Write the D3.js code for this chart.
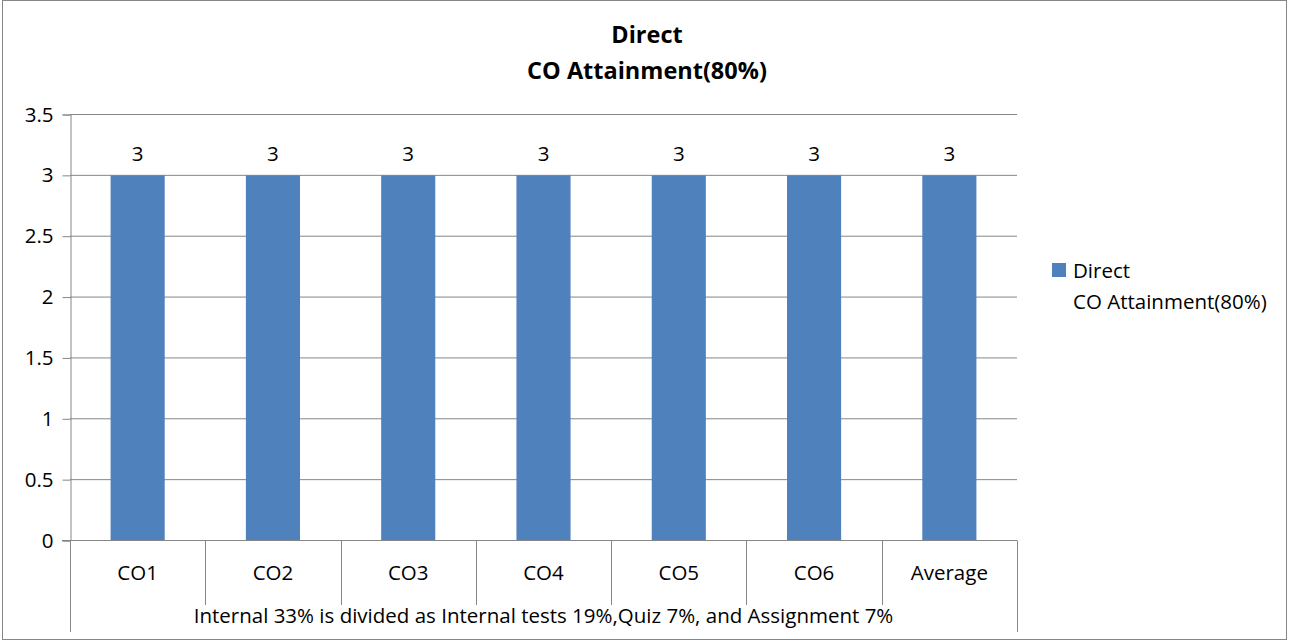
<!DOCTYPE html>
<html>
<head>
<meta charset="UTF-8">
<script src="https://cdn.jsdelivr.net/npm/d3@7"></script>
<style>
  * { margin: 0; padding: 0; }
  html, body { width: 1291px; height: 641px; background: #fff; overflow: hidden; }
  svg { display: block; font-family: "Open Sans", "Noto Sans", sans-serif; }
</style>
</head>
<body>
<svg id="chart" width="1291" height="641"></svg>
<script>
// chart data
var categories = ["CO1", "CO2", "CO3", "CO4", "CO5", "CO6", "Average"];
var values = [3, 3, 3, 3, 3, 3, 3];
var yTicks = [0, 0.5, 1, 1.5, 2, 2.5, 3, 3.5];
var titleLines = ["Direct", "CO Attainment(80%)"];
var groupLabel = "Internal 33% is divided as Internal tests 19%,Quiz 7%, and Assignment 7%";

var svg = d3.select("#chart");
var gridColor = "#868686";
var barColor = "#4f81bd";
var fs = "20.5px";

// outer frame
svg.append("rect")
  .attr("x", 2.5).attr("y", 0.5).attr("width", 1284).attr("height", 639)
  .attr("fill", "#fff").attr("stroke", gridColor).attr("stroke-width", 1);

var x = d3.scaleBand().domain(categories).range([70, 1017]).paddingInner(0).paddingOuter(0);
var y = d3.scaleLinear().domain([0, 3.5]).range([540.5, 114.5]);

// gridlines
svg.append("g").selectAll("line")
  .data(yTicks.filter(function(d) { return d > 0; }))
  .enter().append("line")
  .attr("x1", 70).attr("x2", 1017)
  .attr("y1", function(d) { return y(d); })
  .attr("y2", function(d) { return y(d); })
  .attr("stroke", gridColor).attr("stroke-width", 1);

// y axis
var yAxis = svg.append("g")
  .attr("transform", "translate(70.5,0)")
  .call(d3.axisLeft(y).tickValues(yTicks).tickSize(8).tickPadding(6).tickFormat(d3.format("")));
yAxis.select(".domain").attr("stroke", gridColor);
yAxis.selectAll(".tick line").attr("stroke", gridColor);
yAxis.selectAll(".tick text").attr("font-size", fs).attr("fill", "#000").attr("dx", "-3")
  .attr("font-family", "'Open Sans', sans-serif");

// bars
var bw = x.bandwidth() * 0.4;
svg.append("g").selectAll("rect")
  .data(values)
  .enter().append("rect")
  .attr("x", function(d, i) { return x(categories[i]) + (x.bandwidth() - bw) / 2; })
  .attr("y", function(d) { return y(d); })
  .attr("width", bw)
  .attr("height", function(d) { return y(0) - y(d); })
  .attr("fill", barColor);

// data labels
svg.append("g").selectAll("text")
  .data(values)
  .enter().append("text")
  .attr("x", function(d, i) { return x(categories[i]) + x.bandwidth() / 2; })
  .attr("y", function(d) { return y(d) - 14; })
  .attr("text-anchor", "middle")
  .attr("font-size", fs)
  .text(function(d) { return d; });

// x axis line
svg.append("line")
  .attr("x1", 62).attr("x2", 1017).attr("y1", y(0)).attr("y2", y(0))
  .attr("stroke", gridColor);

// category separators
var edges = categories.map(function(c) { return x(c); }).concat([x.range()[1]]);
svg.append("g").selectAll("line")
  .data(edges)
  .enter().append("line")
  .attr("x1", function(d) { return Math.round(d) + 0.5; })
  .attr("x2", function(d) { return Math.round(d) + 0.5; })
  .attr("y1", y(0))
  .attr("y2", function(d, i) { return (i === 0 || i === edges.length - 1) ? 632 : 605; })
  .attr("stroke", gridColor);

// category labels
svg.append("g").selectAll("text")
  .data(categories)
  .enter().append("text")
  .attr("x", function(d) { return x(d) + x.bandwidth() / 2; })
  .attr("y", 580)
  .attr("text-anchor", "middle")
  .attr("font-size", fs)
  .text(function(d) { return d; });

// group label
svg.append("text")
  .attr("x", (x.range()[0] + x.range()[1]) / 2)
  .attr("y", 623)
  .attr("text-anchor", "middle")
  .attr("font-size", fs)
  .text(groupLabel);

// title
svg.append("g").selectAll("text")
  .data(titleLines)
  .enter().append("text")
  .attr("x", 647)
  .attr("y", function(d, i) { return 43 + i * 36; })
  .attr("text-anchor", "middle")
  .attr("font-size", "23.5px")
  .attr("font-weight", "bold")
  .text(function(d) { return d; });

// legend
var legend = svg.append("g");
legend.append("rect")
  .attr("x", 1052).attr("y", 263).attr("width", 14).attr("height", 14)
  .attr("fill", barColor);
legend.append("text")
  .attr("x", 1073).attr("y", 278)
  .attr("font-size", fs)
  .text(titleLines[0]);
legend.append("text")
  .attr("x", 1073).attr("y", 309)
  .attr("font-size", fs)
  .text(titleLines[1]);
</script>
</body>
</html>
